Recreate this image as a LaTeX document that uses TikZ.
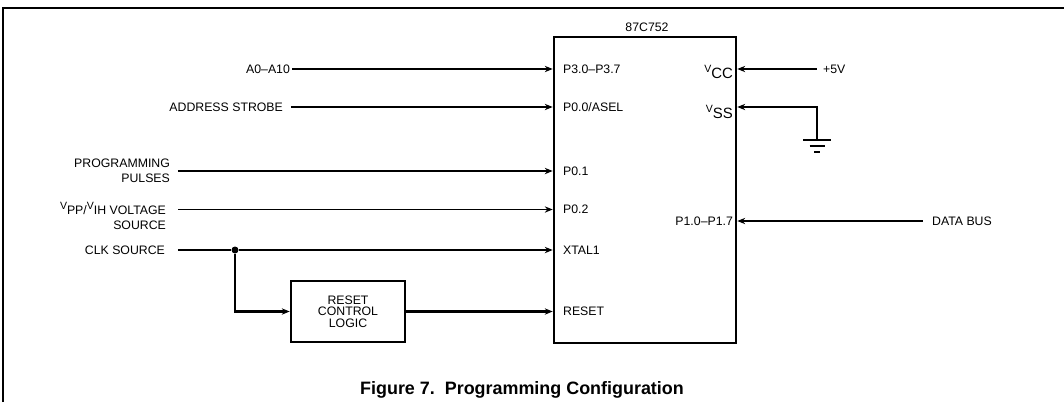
\documentclass[tikz,border=0pt]{standalone}
\usepackage{fontspec}
\setmainfont{Liberation Sans}
\usetikzlibrary{arrows.meta}
\newcommand{\vsub}[1]{{\fontsize{6}{6}\selectfont\raisebox{3pt}{V}}#1}

\begin{document}
\begin{tikzpicture}[
  lbl/.style={font=\fontsize{7}{8.5}\selectfont, inner sep=1pt},
  supply/.style={font=\fontsize{8.5}{9}\selectfont, inner sep=1pt, anchor=east},
  thin wire/.style={line width=0.7pt, -{Stealth[length=4.5pt,width=3.6pt]}},
  thick wire/.style={line width=1.3pt, -{Stealth[length=4.5pt,width=3.6pt]}},
  block/.style={draw, line width=1.5pt}
]
\useasboundingbox (0,0) rectangle (21.28,8.04);
\draw [line width=1.2pt] (0.06,0) -- (0.06,7.88) -- (21.28,7.88);

\node[block, minimum width=3.64cm, minimum height=6.12cm] (chip) at (12.90,4.24) {};
\node[lbl] (partno) at (12.94,7.50) {87C752};
\foreach \n/\y/\t in {p30/6.66/P3.0--P3.7, p00/5.90/{P0.0/ASEL}, p01/4.62/P0.1, p02/3.85/P0.2, xtal/3.04/XTAL1, rst/1.81/RESET}
  \node[lbl, anchor=west] (\n) at (11.22,\y) {\t};
\node[supply] (vcc) at (14.70,6.60) {\vsub{CC}};
\node[supply] (vss) at (14.70,5.80) {\vsub{SS}};
\node[lbl, anchor=east] (p1) at (14.70,3.62) {P1.0--P1.7};

\node[lbl, anchor=east] (addr) at (5.84,6.66) {A0--A10};
\node[lbl, anchor=east] (strobe) at (5.70,5.90) {ADDRESS STROBE};
\node[lbl, anchor=east, align=right] (prog) at (3.44,4.62) {PROGRAMMING\\PULSES};
\node[lbl, anchor=east, align=right] (vpp) at (3.36,3.72) {\vsub{PP}/\vsub{IH} VOLTAGE\\SOURCE};
\node[lbl, anchor=east] (clk) at (3.34,3.04) {CLK SOURCE};
\node[circle, fill, inner sep=0pt, minimum size=0.14cm] (jn) at (4.70,3.04) {};
\node[block, minimum width=2.28cm, minimum height=1.22cm, align=center, font=\fontsize{7}{6.6}\selectfont] (rcl) at (6.96,1.81) {RESET\\CONTROL\\LOGIC};

\draw[thin wire] (addr.east) -- (chip.west |- p30);
\draw[thin wire, shorten <=3.4pt] (strobe.east) -- (chip.west |- p00);
\draw[thick wire, shorten <=3.4pt] (prog.east) -- (chip.west |- p01);
\draw[thin wire, shorten <=5.7pt] (vpp.east |- p02) -- (chip.west |- p02);
\draw[line width=1.3pt, shorten <=6.2pt] (clk.east) -- (jn);
\draw[thick wire] (jn) -- (chip.west |- xtal);
\draw[thick wire] (jn) |- (rcl.west);
\draw[thick wire] (rcl.east) -- (chip.west |- rst);

\node[lbl, anchor=west] (p5v) at (16.42,6.66) {+5V};
\draw[thin wire, shorten <=2.3pt] (p5v.west) -- (chip.east |- p5v.west);
\coordinate (gnd) at (16.34,5.24);
\coordinate (vsspin) at (16.34,5.90);
\draw[thin wire] (gnd) -- (vsspin) -- (chip.east |- vsspin);
\foreach \w/\d in {0.28/0, 0.15/0.12, 0.06/0.24}
  \draw[line width=0.7pt] ([xshift=-\w cm, yshift=-\d cm]gnd) -- ([xshift=\w cm, yshift=-\d cm]gnd);
\node[lbl, anchor=west] (bus) at (18.60,3.62) {DATA BUS};
\draw[thin wire, shorten <=4.1pt] (bus.west) -- (chip.east |- bus.west);

\node[font=\fontsize{10.2}{12}\selectfont\bfseries] (caption) at (10.44,0.24) {Figure 7.~~Programming Configuration};
\end{tikzpicture}
\end{document}
